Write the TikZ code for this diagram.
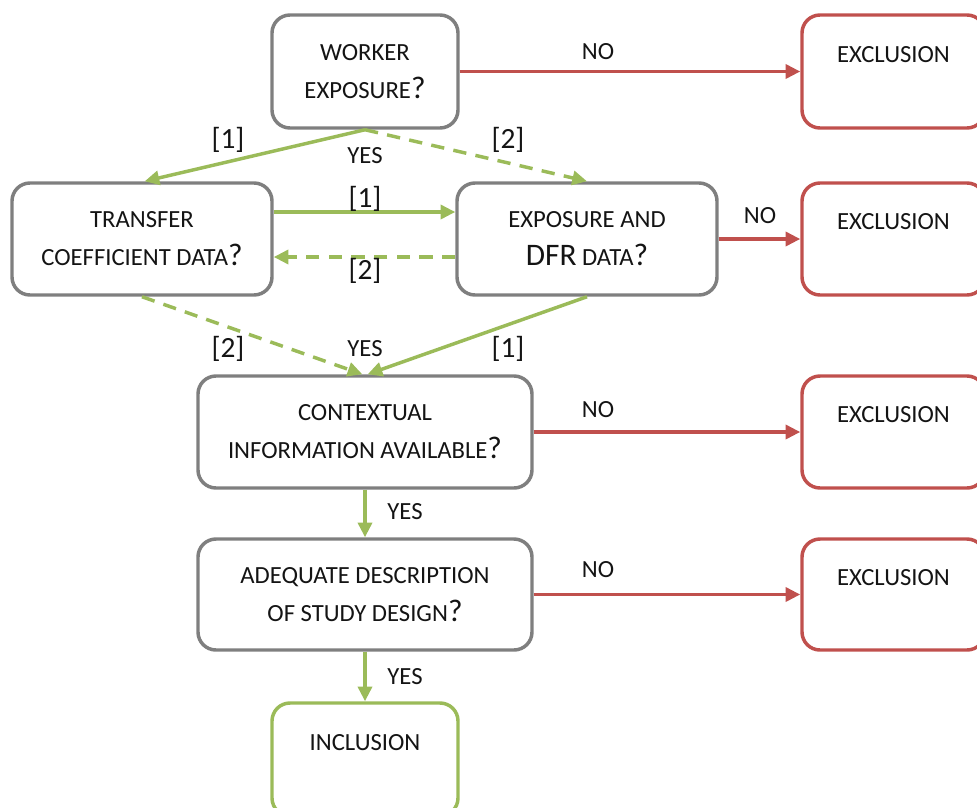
\documentclass[tikz,border=0pt]{standalone}
\usepackage{fontspec}
\setmainfont{Carlito}
\usetikzlibrary{arrows.meta}
\definecolor{grn}{HTML}{9BBB59}
\definecolor{rd}{HTML}{C0504D}
\definecolor{gry}{HTML}{7F7F7F}
\definecolor{txt}{HTML}{141414}
\newcommand\bigq{{\fontsize{23.5}{28}\selectfont ?}}
\newcommand\bigtxt[1]{{\fontsize{23.5}{28}\selectfont #1}}
\tikzset{
  box/.style={draw=gry, line width=2.6pt, rounded corners=13.5pt, fill=white, align=center,
    font=\fontsize{18.5}{28.5}\selectfont, text=txt, inner sep=0pt},
  exbox/.style={box, draw=rd},
  inbox/.style={box, draw=grn},
  wh/.style 2 args={minimum width=#1*0.75pt, minimum height=#2*0.75pt},
  lab/.style={font=\fontsize{18.5}{22}\selectfont, text=txt, inner sep=0pt},
  num/.style={font=\fontsize{22}{24}\selectfont, text=txt, inner sep=0pt},
  tip/.style={-{Triangle[length=11pt,width=10.5pt]}},
  garr/.style={draw=grn, line width=2.6pt, tip},
  gdash/.style={garr, dash pattern=on 10pt off 7pt},
  rarr/.style={draw=rd, line width=2.6pt, tip},
  extitle/.style={label={[lab, yshift=13pt]center:EXCLUSION}}
}
\begin{document}
\begin{tikzpicture}[x=0.75pt,y=-0.75pt]
\useasboundingbox (0,0) rectangle (977,807);
\clip (0,0) rectangle (977,807);
% boxes
\node[box, wh={186}{113}] (worker) at (365,71.5) {WORKER\\EXPOSURE\bigq};
\node[exbox, wh={183}{113}, extitle] (ex1) at (893.5,71.5) {};
\node[box, wh={260}{112}] (transfer) at (142,239) {TRANSFER\\COEFFICIENT DATA\bigq};
\node[box, wh={260}{112}] (expo) at (587,239) {EXPOSURE AND\\\bigtxt{DFR} DATA\bigq};
\node[exbox, wh={183}{112}, extitle] (ex2) at (893.5,239) {};
\node[box, wh={334}{112}] (context) at (365,432) {CONTEXTUAL\\INFORMATION AVAILABLE\bigq};
\node[exbox, wh={183}{112}, extitle] (ex3) at (893.5,432) {};
\node[box, wh={334}{111}] (adequate) at (365,594.5) {ADEQUATE DESCRIPTION\\OF STUDY DESIGN\bigq};
\node[exbox, wh={183}{111}, extitle] (ex4) at (893.5,594.5) {};
\node[inbox, wh={186}{113}, label={[lab, yshift=13pt]center:INCLUSION}] (incl) at (365,759.5) {};
% connectors
\draw[rarr] (worker.east) -- (ex1.west);
\draw[garr] (worker.south) -- ([xshift=2pt]transfer.north);
\draw[gdash] (worker.south) -- (expo.north);
\draw[garr] ([yshift=20.25pt]transfer.east) -- ([yshift=20.25pt]expo.west);
\draw[gdash] ([yshift=-13.5pt]expo.west) -- ([yshift=-13.5pt]transfer.east);
\draw[rarr] (expo.east) -- (ex2.west);
\draw[gdash] (transfer.south) -- ([xshift=-2pt]context.north);
\draw[garr] (expo.south) -- ([xshift=2pt]context.north);
\draw[rarr] (context.east) -- (ex3.west);
\draw[garr] (context.south) -- (adequate.north);
\draw[rarr] (adequate.east) -- (ex4.west);
\draw[garr] (adequate.south) -- (incl.north);
% labels
\node[lab] (no1) at (598,52) {NO};
\node[num] (l1a) at (228,140) {[1]};
\node[num] (l2a) at (508,140) {[2]};
\node[lab] (yes1) at (365,156) {YES};
\node[num] (l1b) at (365,199) {[1]};
\node[num] (l2b) at (365,271) {[2]};
\node[lab] (no2) at (760,216) {NO};
\node[num] (l2c) at (228,349) {[2]};
\node[lab] (yes2) at (365,349) {YES};
\node[num] (l1c) at (508,349) {[1]};
\node[lab] (no3) at (598,410) {NO};
\node[lab] (yes3) at (405,512) {YES};
\node[lab] (no4) at (598,570) {NO};
\node[lab] (yes4) at (405,677) {YES};
\end{tikzpicture}
\end{document}
